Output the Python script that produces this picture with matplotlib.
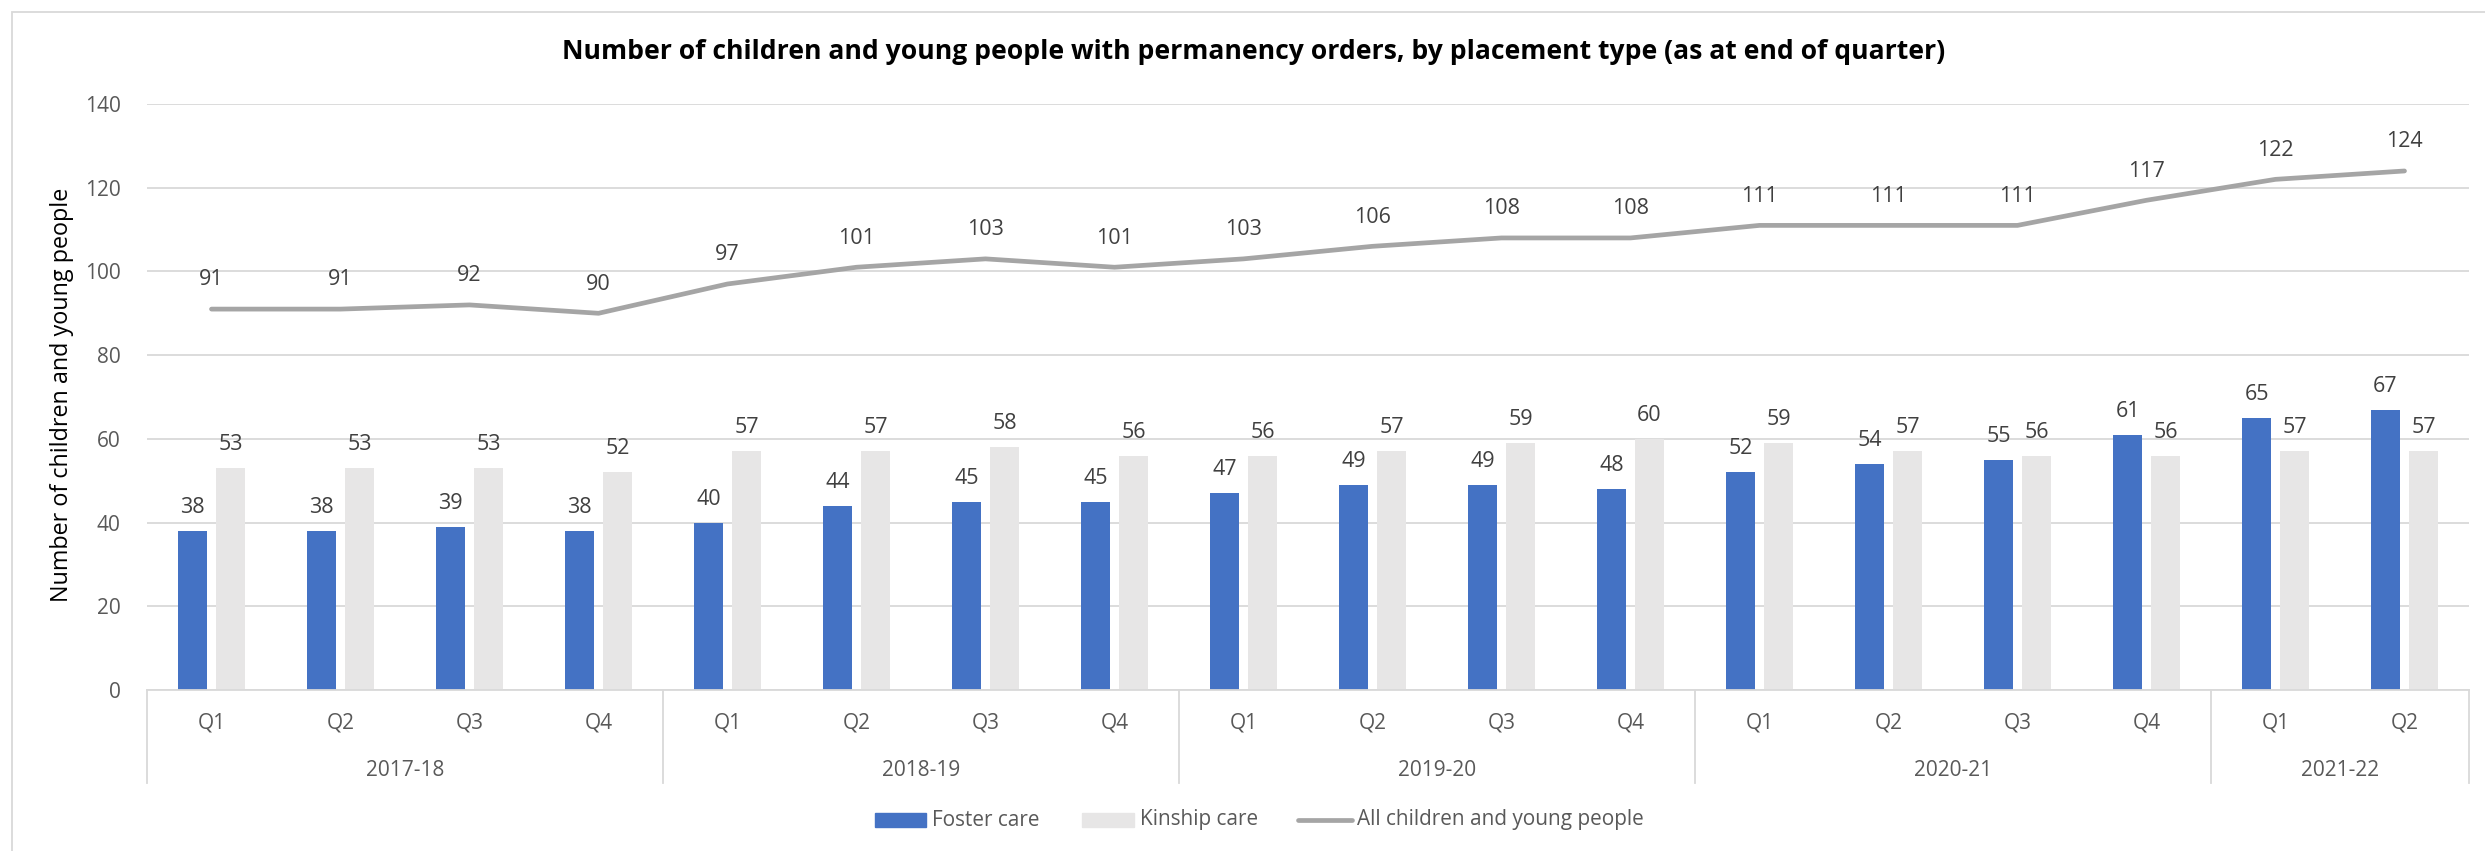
import numpy as np
import matplotlib
matplotlib.use('Agg')
import matplotlib.pyplot as plt
from matplotlib.patches import Rectangle
from matplotlib.lines import Line2D
import matplotlib.transforms as mtransforms

plt.rcParams['font.family'] = ['Open Sans', 'DejaVu Sans']

# ---------------- data ----------------
title = "Number of children and young people with permanency orders, by placement type (as at end of quarter)"
y_label = "Number of children and young people"
quarters = ['Q1', 'Q2', 'Q3', 'Q4', 'Q1', 'Q2', 'Q3', 'Q4', 'Q1', 'Q2', 'Q3', 'Q4',
            'Q1', 'Q2', 'Q3', 'Q4', 'Q1', 'Q2']
years = ['2017-18', '2018-19', '2019-20', '2020-21', '2021-22']
year_sizes = [4, 4, 4, 4, 2]
foster = [38, 38, 39, 38, 40, 44, 45, 45, 47, 49, 49, 48, 52, 54, 55, 61, 65, 67]
kinship = [53, 53, 53, 52, 57, 57, 58, 56, 56, 57, 59, 60, 59, 57, 56, 56, 57, 57]
all_cyp = [91, 91, 92, 90, 97, 101, 103, 101, 103, 106, 108, 108, 111, 111, 111, 117, 122, 124]
series_names = ['Foster care', 'Kinship care', 'All children and young people']
y_ticks = [0, 20, 40, 60, 80, 100, 120, 140]

# ---------------- style ----------------
BLUE = '#4472C4'
LGRAY = '#E7E6E6'
LINE = '#A5A5A5'
GRID = '#D9D9D9'
TICK = '#595959'
LABEL = '#404040'

W, H = 2485, 851
fig = plt.figure(figsize=(W / 100, H / 100), dpi=100)


def fx(px):
    return px / W


def fy(py):
    return 1 - py / H


# outer chart frame (only top and left edges fall inside the image)
fig.patches.append(Rectangle((fx(12), fy(880)), fx(2520 - 12), (880 - 12) / H,
                             transform=fig.transFigure, fill=False,
                             edgecolor=GRID, lw=1.3))

left, right, top, bottom = 147, 2469, 104, 690
ax = fig.add_axes([fx(left), fy(bottom), fx(right - left), (bottom - top) / H])

n = len(foster)
x = np.arange(n)
bw = 0.228
off = 0.147
ax.bar(x - off, foster, bw, color=BLUE, zorder=3)
ax.bar(x + off, kinship, bw, color=LGRAY, zorder=3)
ax.plot(x, all_cyp, color=LINE, lw=3.4, zorder=4, solid_capstyle='round')

ax.set_xlim(-0.5, n - 0.5)
ax.set_ylim(0, 140)
ax.set_yticks(y_ticks)
ax.grid(axis='y', color=GRID, lw=1.3, zorder=0)
ax.set_axisbelow(True)
for s in ['top', 'right', 'left']:
    ax.spines[s].set_visible(False)
ax.spines['bottom'].set_color(GRID)
ax.spines['bottom'].set_linewidth(1.3)
ax.spines['bottom'].set_zorder(5)
ax.tick_params(axis='y', length=0, pad=19, labelsize=15, labelcolor=TICK)
ax.set_xticks([])

# data labels
for i in range(n):
    ax.annotate(str(foster[i]), (x[i] - off, foster[i]), xytext=(0, 13),
                textcoords='offset points', ha='center', va='baseline',
                fontsize=15.5, color=LABEL)
    ax.annotate(str(kinship[i]), (x[i] + off, kinship[i]), xytext=(0, 13),
                textcoords='offset points', ha='center', va='baseline',
                fontsize=15.5, color=LABEL)
    ax.annotate(str(all_cyp[i]), (x[i], all_cyp[i]), xytext=(0, 17),
                textcoords='offset points', ha='center', va='baseline',
                fontsize=15.5, color=LABEL)

# multi-level category axis
trans = mtransforms.blended_transform_factory(ax.transData, ax.transAxes)
ph = bottom - top
q_y = -(723 - bottom) / ph
yr_y = -(770 - bottom) / ph
sep_y = -(783 - bottom) / ph
for i, q in enumerate(quarters):
    ax.text(i, q_y, q, transform=trans, ha='center', va='center',
            fontsize=15, color=TICK)
bounds = np.concatenate([[0], np.cumsum(year_sizes)]) - 0.5
for b in bounds:
    ax.add_line(Line2D([b, b], [0, sep_y], transform=trans, color=GRID,
                       lw=1.3, clip_on=False))
for k, yr in enumerate(years):
    c = (bounds[k] + bounds[k + 1]) / 2
    ax.text(c, yr_y, yr, transform=trans, ha='center', va='center',
            fontsize=15, color=TICK)

# title and axis label
t = fig.text(fx(1254), fy(52), title, ha='center', va='center',
             fontweight='bold', fontsize=18, color='black')
yl = fig.text(fx(62), fy(395), y_label, rotation=90, ha='center', va='center',
              fontsize=15, color='black')

# legend (manual)
ly = 820
fig.patches.append(Rectangle((fx(875), fy(ly + 7)), fx(51), 14 / H,
                             transform=fig.transFigure, color=BLUE))
fig.patches.append(Rectangle((fx(1082), fy(ly + 7)), fx(52), 14 / H,
                             transform=fig.transFigure, color=LGRAY))
fig.lines.append(Line2D([fx(1298), fx(1352)], [fy(ly), fy(ly)],
                        transform=fig.transFigure, color=LINE, lw=3.4,
                        solid_capstyle='round'))
lt = []
for xp, name in zip([932, 1140, 1357], series_names):
    lt.append(fig.text(fx(xp), fy(ly), name, ha='left', va='center',
                       fontsize=14, color=TICK))

# fit text widths to the reference
fig.canvas.draw()
r = fig.canvas.get_renderer()
tw = t.get_window_extent(r).width
t.set_fontsize(18 * 1386 / tw)
yh = yl.get_window_extent(r).height
yl.set_fontsize(15 * 414 / yh)
lw_ = lt[2].get_window_extent(r).width
for tt in lt:
    tt.set_fontsize(14 * 288 / lw_)

fig.savefig('out.png', dpi=100, facecolor='white')
